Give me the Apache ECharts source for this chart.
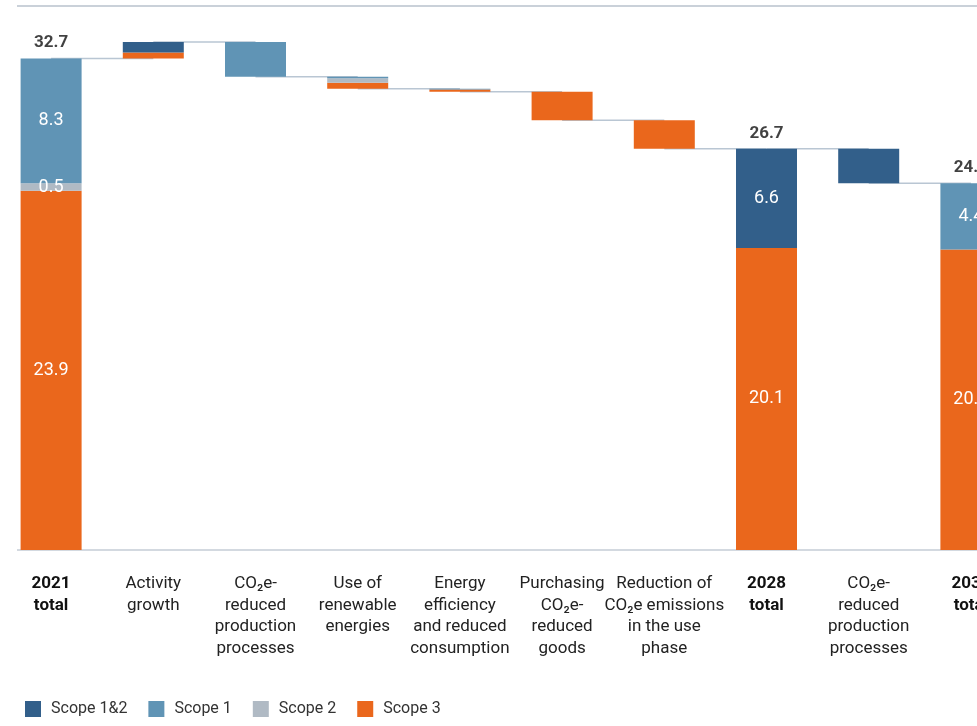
<!DOCTYPE html>
<html>
<head>
<meta charset="utf-8">
<script src="https://cdn.jsdelivr.net/npm/echarts@6/dist/echarts.min.js"></script>
<style>
  html, body { margin: 0; padding: 0; background: #fff; overflow: hidden; }
  #chart { width: 1022px; height: 726px; }
</style>
</head>
<body>
<div id="chart"></div>
<script>
// ---- data ----
const categories = [
  '2021\ntotal',
  'Activity\ngrowth',
  'CO₂e-\nreduced\nproduction\nprocesses',
  'Use of\nrenewable\nenergies',
  'Energy\nefficiency\nand reduced\nconsumption',
  'Purchasing\nCO₂e-\nreduced\ngoods',
  'Reduction of\nCO₂e emissions\nin the use\nphase',
  '2028\ntotal',
  'CO₂e-\nreduced\nproduction\nprocesses',
  '2030\ntotal'
];
const kinds = ['total','delta','delta','delta','delta','delta','delta','total','delta','total'];
// signed values (negative = reduction)
const scope12 = [0, 0.7, 0, 0, 0, 0, 0, 6.6, -2.3, 0];
const scope1  = [8.3, 0, -2.3, -0.1, -0.05, 0, 0, 0, 0, 4.4];
const scope2  = [0.5, 0, 0, -0.3, 0, 0, 0, 0, 0, 0];
const scope3  = [23.9, 0.4, 0, -0.4, -0.15, -1.9, -1.9, 20.1, 0, 20.0];
const seriesNames = ['Scope 1&2', 'Scope 1', 'Scope 2', 'Scope 3'];

// ---- derived waterfall geometry ----
const n = categories.length;
const base = [], levels = [];
let level = 0;
for (let i = 0; i < n; i++) {
  const s = scope12[i] + scope1[i] + scope2[i] + scope3[i];
  if (kinds[i] === 'total') { base.push(0); level = s; }
  else if (s >= 0) { base.push(level); level += s; }
  else { level += s; base.push(level); }
  levels.push(Math.round(level * 100) / 100);
}

const FONT = "Roboto, 'Noto Sans', sans-serif";
const colors = { 'Scope 1&2': '#325f8a', 'Scope 1': '#6094b5', 'Scope 2': '#b0bac4', 'Scope 3': '#ea671c' };
const BW = 61;

function segSeries(name, arr) {
  return {
    name: name,
    type: 'bar',
    stack: 'w',
    barWidth: BW,
    z: 3,
    itemStyle: { color: colors[name] },
    data: arr.map((v, i) => ({
      value: Math.abs(v),
      label: {
        show: kinds[i] === 'total' && v > 0,
        position: 'inside',
        color: '#fff',
        fontFamily: FONT,
        fontSize: 18,
        formatter: () => v.toFixed(1)
      }
    }))
  };
}

const chart = echarts.init(document.getElementById('chart'), null, { renderer: 'canvas' });
chart.setOption({
  animation: false,
  textStyle: { fontFamily: FONT },
  grid: { left: 0, right: 0, top: 6, bottom: 176, containLabel: false },
  legend: {
    data: seriesNames,
    left: 25,
    top: 701,
    padding: 0,
    itemWidth: 16,
    itemHeight: 16,
    itemGap: 21,
    icon: 'rect',
    textStyle: { fontFamily: FONT, fontSize: 16, color: '#333', padding: [0, 0, 0, 5] }
  },
  xAxis: {
    type: 'category',
    data: categories,
    axisTick: { show: false },
    axisLine: { show: true, lineStyle: { color: '#d3d9e0', width: 2 } },
    axisLabel: {
      interval: 0,
      margin: 23,
      fontFamily: FONT,
      fontSize: 17,
      lineHeight: 21.5,
      color: '#222',
      formatter: (v, i) => kinds[i] === 'total' ? '{b|' + v + '}' : v,
      rich: { b: { fontWeight: 'bold', fontFamily: FONT, fontSize: 17, lineHeight: 21.5, color: '#111' } }
    }
  },
  yAxis: {
    type: 'value',
    min: 0,
    max: 36.2,
    interval: 36.2,
    axisLabel: { show: false },
    axisLine: { show: false },
    axisTick: { show: false },
    splitLine: { show: true, lineStyle: { color: '#b9c2cd', width: 1.5 } }
  },
  series: [
    {
      name: 'base',
      type: 'bar',
      stack: 'w',
      barWidth: BW,
      itemStyle: { color: 'transparent' },
      emphasis: { disabled: true },
      data: base
    },
    segSeries('Scope 3', scope3),
    segSeries('Scope 2', scope2),
    segSeries('Scope 1', scope1),
    segSeries('Scope 1&2', scope12),
    {
      name: 'connectors',
      type: 'custom',
      z: 1,
      silent: true,
      data: levels.slice(0, n - 1).map((v, i) => [i, v]),
      renderItem: (params, api) => {
        const i = api.value(0), v = api.value(1);
        const p0 = api.coord([i, v]);
        const p1 = api.coord([i + 1, v]);
        return {
          type: 'line',
          shape: { x1: p0[0], y1: p0[1], x2: p1[0], y2: p1[1] },
          style: { stroke: '#b9c6d3', lineWidth: 1.5 }
        };
      }
    },
    {
      name: 'totals',
      type: 'scatter',
      symbolSize: 0,
      z: 4,
      silent: true,
      data: levels.map((v, i) => kinds[i] === 'total' ? [i, v] : null).filter(d => d),
      label: {
        show: true,
        position: 'top',
        distance: 7,
        color: '#111',
        fontFamily: FONT,
        fontWeight: 'bold',
        fontSize: 17,
        formatter: p => p.value[1].toFixed(1)
      }
    }
  ],
  graphic: [{
    type: 'rect', left: 0, top: 0, z: 100,
    shape: { width: 17, height: 560 },
    style: { fill: '#fff' }
  }]
});
</script>
</body>
</html>
